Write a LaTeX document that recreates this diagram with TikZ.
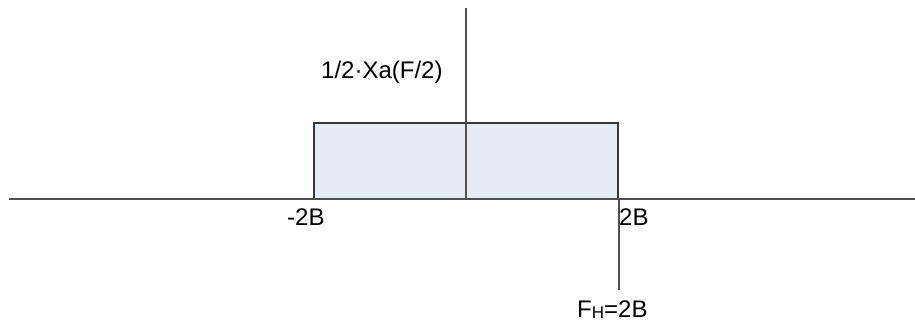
\documentclass[tikz,border=0pt]{standalone}
\usepackage{fontspec}
\setmainfont{Liberation Sans}
\definecolor{boxfill}{HTML}{E6ECF6}
\definecolor{axisgray}{HTML}{4E4E4E}
\definecolor{boxline}{HTML}{383838}
\tikzset{
  axisline/.style={draw=axisgray, line width=2pt},
  band/.style={draw=boxline, fill=boxfill, line width=2pt},
  lbl/.style={inner sep=0pt, anchor=base west, font=\fontsize{24}{28}\selectfont}
}
\begin{document}
\begin{tikzpicture}[x=1pt,y=-1pt]
\useasboundingbox (0,0) rectangle (915,329);
% coordinates
\coordinate (xl) at (9,198.5);
\coordinate (xr) at (915,198.5);
\coordinate (yt) at (465.5,8);
\coordinate (yb) at (465.5,198.5);
\coordinate (r1) at (314,123);
\coordinate (r2) at (618,198.5);
\coordinate (ht) at (619,198.5);
\coordinate (hb) at (619,290);
% band
\draw[band] (r1) rectangle (r2);
% axes
\draw[axisline] (xl) -- (xr);
\draw[axisline] (yt) -- (yb);
\draw[axisline] (ht) -- (hb);
% labels
\node[lbl] (ya) at (321,78) {1/2·Xa(F/2)};
\node[lbl] (lm) at (287,225) {-2B};
\node[lbl] (lp) at (619,225) {2B};
\node[lbl] (fh) at (577,317) {F{\fontsize{17}{20}\selectfont\raisebox{-1.5pt}{H}}=2B};
\end{tikzpicture}
\end{document}
